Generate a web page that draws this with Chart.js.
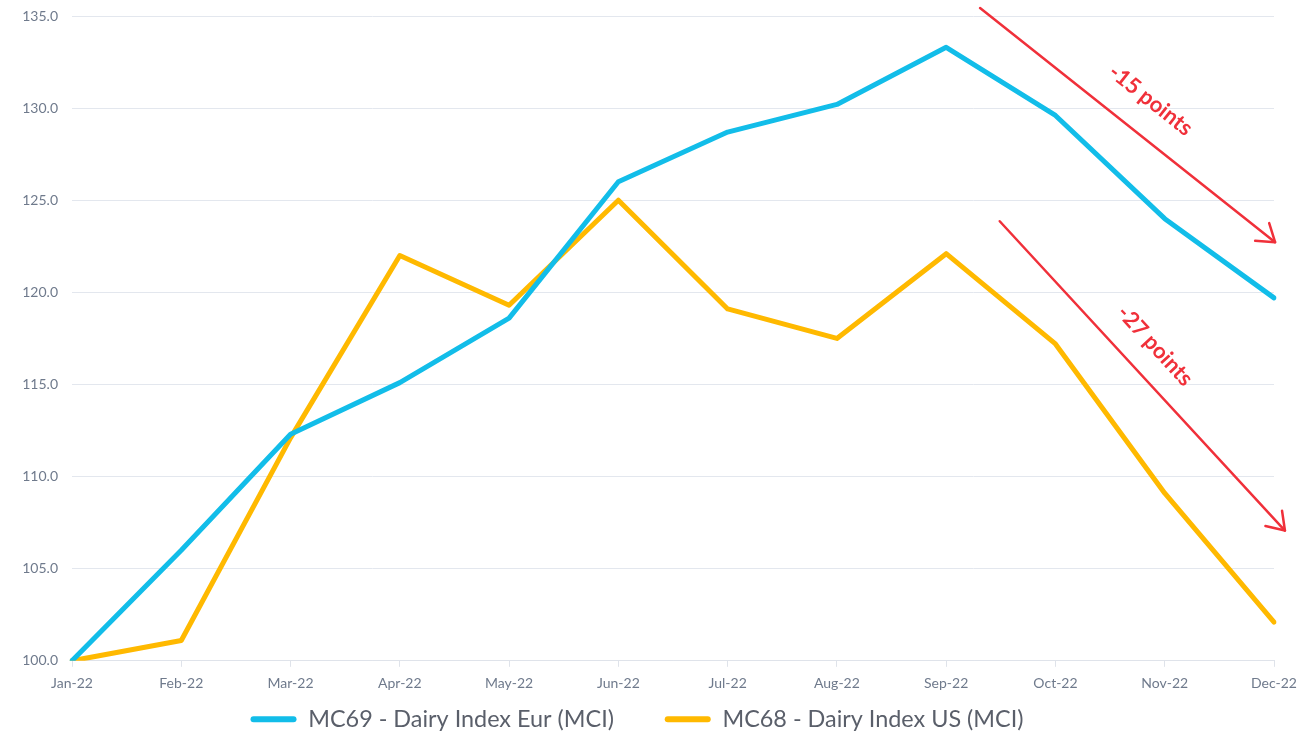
<!DOCTYPE html>
<html><head><meta charset="utf-8">
<script src="https://cdn.jsdelivr.net/npm/chart.js@4"></script>
<style>html,body{margin:0;padding:0;background:#fff}#wrap{width:1305px;height:737px}</style>
</head><body><div id="wrap"><canvas id="c"></canvas></div>
<script>
const categories = ["Jan-22","Feb-22","Mar-22","Apr-22","May-22","Jun-22","Jul-22","Aug-22","Sep-22","Oct-22","Nov-22","Dec-22"];
const eurValues = [100.0,106.0,112.3,115.1,118.6,126.0,128.7,130.2,133.3,129.6,124.0,119.7];
const usValues  = [100.0,101.1,112.1,122.0,119.3,125.0,119.1,117.5,122.1,117.2,109.1,102.1];
const eurLabel = "MC69 - Dairy Index Eur (MCI)";
const usLabel = "MC68 - Dairy Index US (MCI)";
const yMin = 100, yMax = 135, yStep = 5;
// annotations in data units (x = category index, y = value)
const arrows = [
  {x1: 8.31, y1: 135.43, x2: 11.01, y2: 122.72},
  {x1: 8.49, y1: 123.86, x2: 11.10, y2: 107.07}
];
const notes = [
  {text: "-15 points", x: 9.87, y: 130.43, x1: 8.31, y1: 135.43, x2: 11.01, y2: 122.72},
  {text: "-27 points", x: 9.91, y: 117.1, x1: 8.49, y1: 123.86, x2: 11.10, y2: 107.07}
];
const RED = "#f0303a";
const FONT = "Lato, 'Open Sans', sans-serif";

const annot = {
  id: 'annot',
  afterLayout(chart) {
    const lg = chart.legend;
    if (lg) {
      lg.top += 4; lg.bottom += 4;
      (lg.legendHitBoxes || []).forEach(h => { h.top += 4; });
    }
  },
  afterDatasetsDraw(chart) {
    const ctx = chart.ctx, xs = chart.scales.x, ys = chart.scales.y;
    ctx.save();
    ctx.strokeStyle = RED; ctx.lineWidth = 2.5; ctx.lineCap = 'round'; ctx.lineJoin = 'round';
    arrows.forEach(a => {
      const X1 = xs.getPixelForValue(a.x1), Y1 = ys.getPixelForValue(a.y1);
      const X2 = xs.getPixelForValue(a.x2), Y2 = ys.getPixelForValue(a.y2);
      ctx.beginPath(); ctx.moveTo(X1, Y1); ctx.lineTo(X2, Y2); ctx.stroke();
      const ang = Math.atan2(Y2 - Y1, X2 - X1), L = 20, sp = 0.6;
      ctx.beginPath();
      ctx.moveTo(X2 - L*Math.cos(ang - sp), Y2 - L*Math.sin(ang - sp));
      ctx.lineTo(X2, Y2);
      ctx.lineTo(X2 - L*Math.cos(ang + sp), Y2 - L*Math.sin(ang + sp));
      ctx.stroke();
    });
    ctx.fillStyle = RED; ctx.font = "bold 22px " + FONT; ctx.textAlign = 'center'; ctx.textBaseline = 'middle';
    notes.forEach(n => {
      const X = xs.getPixelForValue(n.x), Y = ys.getPixelForValue(n.y);
      const ang = Math.atan2(ys.getPixelForValue(n.y2) - ys.getPixelForValue(n.y1), xs.getPixelForValue(n.x2) - xs.getPixelForValue(n.x1));
      ctx.save(); ctx.translate(X, Y); ctx.rotate(ang); ctx.fillText(n.text, 0, 0); ctx.restore();
    });
    ctx.restore();
  }
};

new Chart(document.getElementById('c'), {
  type: 'line',
  data: {
    labels: categories,
    datasets: [
      {label: eurLabel, data: eurValues, borderColor: '#12bde9', backgroundColor: '#12bde9', borderWidth: 5, pointRadius: 0, tension: 0, borderCapStyle: 'round', borderJoinStyle: 'round'},
      {label: usLabel, data: usValues, borderColor: '#ffb900', backgroundColor: '#ffb900', borderWidth: 5, pointRadius: 0, tension: 0, borderCapStyle: 'round', borderJoinStyle: 'round'}
    ]
  },
  options: {
    responsive: true, maintainAspectRatio: false, animation: false,
    layout: {padding: {top: 16, right: 31, left: 0, bottom: 0}},
    plugins: {
      legend: {position: 'bottom', labels: {
        boxWidth: 46, boxHeight: 6, padding: 4, color: '#5a5f6a', font: {family: FONT, size: 23.4},
        useBorderRadius: true, borderRadius: 3,
        generateLabels(chart) {
          const items = Chart.defaults.plugins.legend.labels.generateLabels(chart);
          items.forEach((i, k) => { i.lineWidth = 0; if (k === 0) i.text = i.text + "\u2002\u2002\u2002\u2002"; });
          return items;
        }
      }},
      tooltip: {enabled: false}
    },
    scales: {
      x: {
        offset: false,
        grid: {display: true, drawOnChartArea: false, tickLength: 6, color: '#dfe3ea'},
        border: {color: '#dfe3ea'},
        ticks: {color: '#6f7a8c', font: {family: FONT, size: 14}, maxRotation: 0, autoSkip: false, padding: 8}
      },
      y: {
        min: yMin, max: yMax,
        afterFit(s) { s.width = 72; s.paddingTop = 0; s.paddingBottom = 0; },
        grid: {color: '#e3e7ee', drawTicks: false},
        border: {display: false},
        ticks: {stepSize: yStep, color: '#6f7a8c', font: {family: FONT, size: 14}, padding: 14, callback: v => v.toFixed(1)}
      }
    }
  },
  plugins: [annot]
});
</script></body></html>
